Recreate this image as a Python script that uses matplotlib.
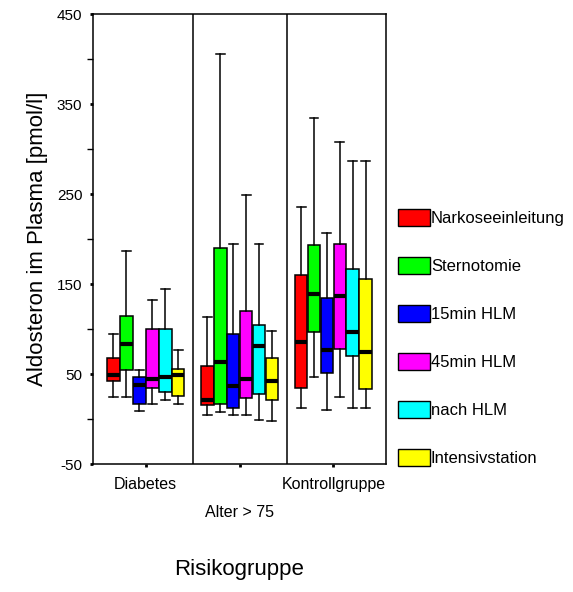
import matplotlib
matplotlib.use('Agg')
import matplotlib.pyplot as plt
from matplotlib.patches import Patch

plt.rcParams['font.family'] = ['Liberation Sans', 'DejaVu Sans']
plt.rcParams['axes.unicode_minus'] = False

groups = ['Diabetes', 'Alter > 75', 'Kontrollgruppe']
phases = ['Narkoseeinleitung', 'Sternotomie', '15min HLM', '45min HLM',
          'nach HLM', 'Intensivstation']
colors = ['#ff0000', '#00ff00', '#0000ff', '#ff00ff', '#00ffff', '#ffff00']

# box statistics per group, one value per phase (pmol/l)
whislo = [[25, 25, 9, 17, 21, 17],
          [5, 8, 4, 5, -1, -2],
          [12, 47, 10, 25, 12, 12]]
q1 = [[42, 55, 17, 35, 30, 26],
      [16, 17, 12, 23, 28, 21],
      [35, 97, 51, 78, 70, 33]]
med = [[49, 83, 38, 45, 47, 49],
       [21, 63, 37, 44, 81, 42],
       [86, 139, 77, 137, 97, 74]]
q3 = [[68, 114, 47, 100, 100, 56],
      [59, 190, 95, 120, 105, 68],
      [160, 193, 135, 195, 167, 156]]
whishi = [[95, 187, 54, 132, 144, 77],
          [113, 406, 194, 249, 194, 98],
          [236, 335, 207, 308, 287, 287]]

fig = plt.figure(figsize=(5.73, 5.92), dpi=100)
ax = fig.add_axes([92.7 / 573, 1 - 464 / 592, (386 - 92.7) / 573, 450 / 592])

step = 0.138
width = 0.136
for g in range(len(groups)):
    for p in range(len(phases)):
        stats = [dict(med=med[g][p], q1=q1[g][p], q3=q3[g][p],
                      whislo=whislo[g][p], whishi=whishi[g][p], fliers=[])]
        pos = g + (p - 2.5) * step
        ax.bxp(stats, positions=[pos], widths=width, capwidths=width * 0.7,
               patch_artist=True, manage_ticks=False,
               boxprops=dict(facecolor=colors[p], edgecolor='black', linewidth=1.1),
               medianprops=dict(color='black', linewidth=3, solid_capstyle='butt'),
               whiskerprops=dict(color='black', linewidth=1.1),
               capprops=dict(color='black', linewidth=1.1))

for xd in (0.5, 1.5):
    ax.axvline(xd, color='black', linewidth=1.1)

ax.set_xlim(-0.565, 2.56)
ax.set_ylim(-50, 450)
for s in ax.spines.values():
    s.set_linewidth(1.1)

ax.set_yticks(range(-50, 451, 100))
ax.set_yticks(range(0, 401, 100), minor=True)
ax.tick_params(axis='y', which='major', length=2.5, width=2, pad=5, labelsize=11)
ax.tick_params(axis='y', which='minor', length=4, width=1)

ax.set_xticks([0, 2], [groups[0], groups[2]])
ax.set_xticks([1], [groups[1]], minor=True)
ax.tick_params(axis='x', which='both', length=2.5, width=2, labelsize=11.5)
ax.tick_params(axis='x', which='major', pad=7)
ax.tick_params(axis='x', which='minor', pad=27)

ax.set_ylabel('Aldosteron im Plasma [pmol/l]', fontsize=16, labelpad=6)
ax.set_xlabel('Risikogruppe', fontsize=16, labelpad=28)

handles = [Patch(facecolor=c, edgecolor='black', linewidth=1) for c in colors]
fig.legend(handles, phases, loc='upper left', bbox_to_anchor=(398 / 573, 1 - 209 / 592),
           frameon=False, borderpad=0, borderaxespad=0, fontsize=12,
           handlelength=1.92, handleheight=1.2, handletextpad=0.05,
           labelspacing=1.85)

fig.savefig('out.png', dpi=100)
